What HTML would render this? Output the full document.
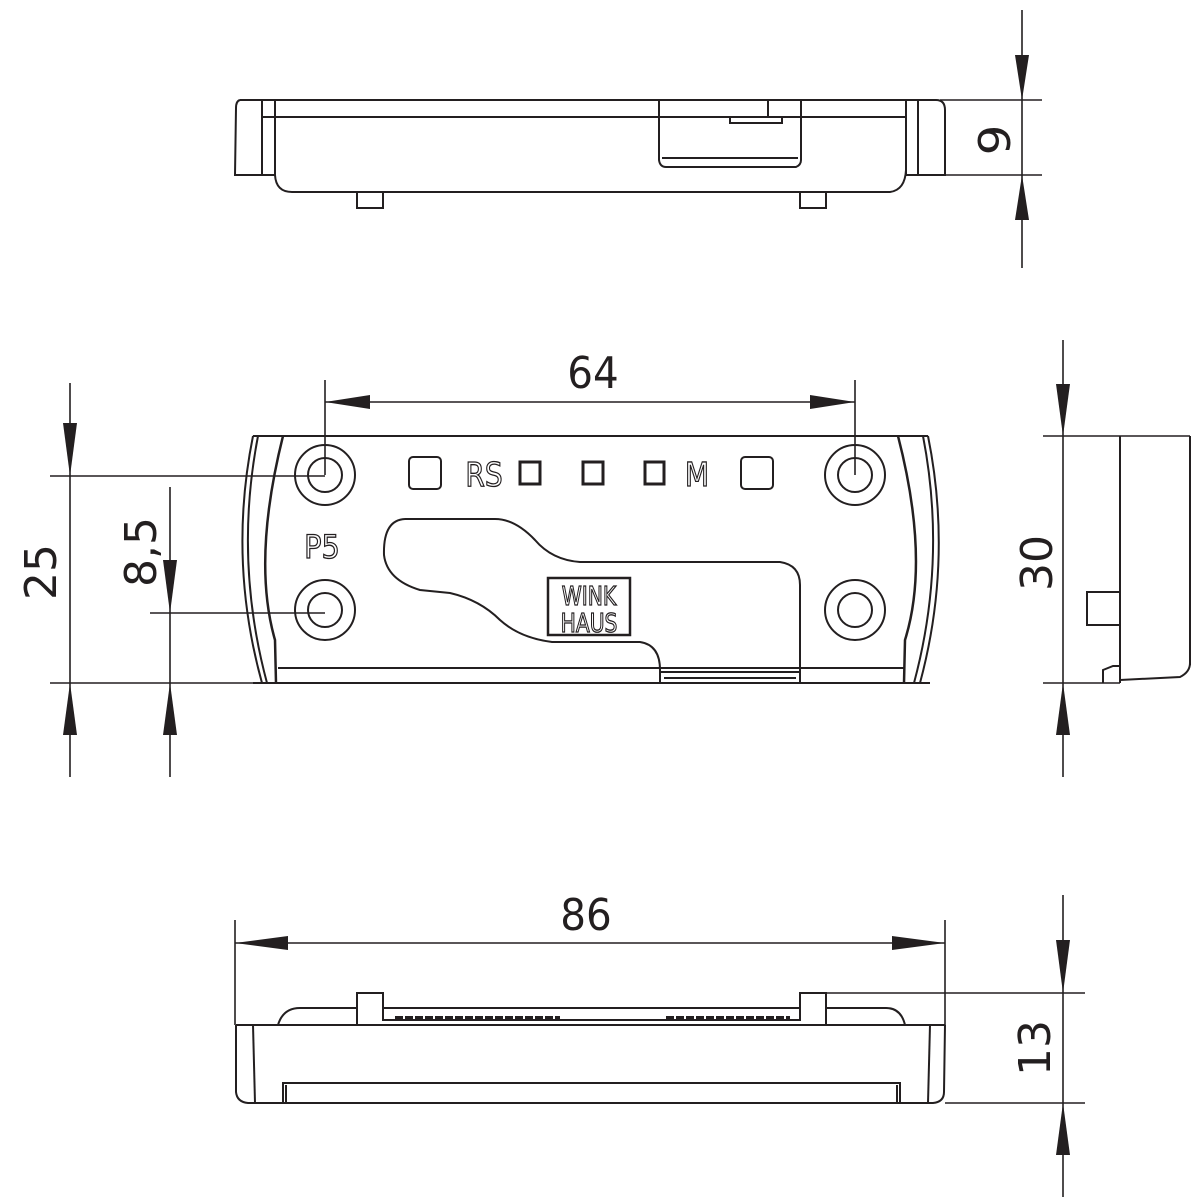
<!DOCTYPE html>
<html><head><style>body{margin:0;background:#fff}svg{display:block}text{font-family:"DejaVu Sans","Liberation Sans",sans-serif;fill:#231f20}</style></head>
<body>
<svg width="1200" height="1200" viewBox="0 0 1200 1200" xmlns="http://www.w3.org/2000/svg">
<g fill="none" stroke="#231f20" stroke-width="2">
<path d="M240 100 L936 100 Q945 100 945 110 L945 175 L905 175"/>
<path d="M240 100 Q236 101 236 108 L235 175 L275 175"/>
<line x1="262" y1="117" x2="906" y2="117"/>
<line x1="262" y1="100" x2="262" y2="175"/>
<line x1="275" y1="100" x2="275" y2="175"/>
<line x1="906" y1="100" x2="906" y2="175"/>
<line x1="918" y1="100" x2="918" y2="175"/>
<path d="M275 175 Q276 192 292 192 L890 192 Q905 190 906 170"/>
<rect x="357" y="192" width="26" height="16"/>
<rect x="800" y="192" width="26" height="16"/>
<path d="M659 100 L659 160 Q660 167 666 167 L796 167 Q801 165 801 160 L801 100"/>
<line x1="662" y1="158" x2="798" y2="158"/>
<line x1="768" y1="100" x2="768" y2="117"/>
<rect x="730" y="117" width="52" height="6"/>
<line x1="253" y1="436" x2="928" y2="436"/>
<line x1="253" y1="683" x2="930" y2="683"/>
<line x1="278" y1="668" x2="905" y2="668"/>
<path d="M253 436 Q228 560 262 683"/>
<path d="M258 436 Q234 560 267 683"/>
<path d="M283 436 Q252 560 275 640 L276 683" stroke-width="2.5"/>
<path d="M928 436 Q953 560 920 683"/>
<path d="M923 436 Q947 560 914 683"/>
<path d="M898 436 Q930 560 905 640 L904 683" stroke-width="2.5"/>
<circle cx="325" cy="475" r="30"/><circle cx="325" cy="475" r="17"/>
<circle cx="855" cy="475" r="30"/><circle cx="855" cy="475" r="17"/>
<circle cx="325" cy="610" r="30"/><circle cx="325" cy="610" r="17"/>
<circle cx="855" cy="610" r="30"/><circle cx="855" cy="610" r="17"/>
<rect x="409" y="457" width="32" height="32" rx="4"/>
<rect x="741" y="457" width="32" height="32" rx="4"/>
<rect x="520" y="462" width="20" height="22" stroke-width="3"/>
<rect x="583" y="462" width="20" height="22" stroke-width="3"/>
<rect x="645" y="462" width="19" height="22" stroke-width="3"/>
<path d="M405 519 L495 519 Q515 519 535 540 Q552 560 580 562 L780 562 Q800 565 800 585 L800 683"/>
<path d="M405 519 Q383 520 384 555 Q387 580 420 590 L450 593 Q480 600 500 620 Q520 638 552 642 L640 642 Q660 645 660 670 L660 683"/>
<line x1="660" y1="672" x2="800" y2="672"/><line x1="664" y1="678" x2="796" y2="678"/>
<rect x="548" y="578" width="82" height="57" stroke-width="2.5"/>
<line x1="1120" y1="436" x2="1120" y2="683"/>
<line x1="1190" y1="436" x2="1190" y2="665"/>
<path d="M1120 680 L1180 677 Q1190 672 1190 663"/>
<rect x="1087" y="592" width="33" height="33"/>
<path d="M1103 683 L1103 670 L1113 666 L1120 666"/>
<path d="M236 1025 L945 1025"/>
<path d="M236 1025 L236 1092 Q237 1102 248 1103 L933 1103 Q944 1102 944 1092 L945 1025"/>
<line x1="253" y1="1025" x2="255" y2="1103"/>
<line x1="930" y1="1025" x2="928" y2="1103"/>
<path d="M283 1103 L283 1083 L900 1083 L900 1103"/>
<line x1="286" y1="1085" x2="286" y2="1103"/><line x1="897" y1="1085" x2="897" y2="1103"/>
<path d="M278 1025 Q283 1008 300 1008 L357 1008"/>
<path d="M826 1008 L886 1008 Q901 1008 905 1025"/>
<path d="M357 1025 L357 993 L383 993 L383 1020 L800 1020 L800 993 L826 993 L826 1025"/>
<line x1="383" y1="1008" x2="800" y2="1008"/>
<line x1="395" y1="1018" x2="560" y2="1018" stroke-width="4" stroke-dasharray="8 2"/>
<line x1="666" y1="1018" x2="790" y2="1018" stroke-width="4" stroke-dasharray="8 2"/>
</g>
<g stroke="#231f20" stroke-width="1.6" fill="none">
<line x1="1022" y1="10" x2="1022" y2="268"/>
<line x1="940" y1="100" x2="1042" y2="100"/><line x1="940" y1="175" x2="1042" y2="175"/>
<line x1="325" y1="380" x2="325" y2="475"/><line x1="855" y1="380" x2="855" y2="475"/>
<line x1="325" y1="402" x2="855" y2="402"/>
<line x1="70" y1="383" x2="70" y2="777"/><line x1="50" y1="476" x2="325" y2="476"/><line x1="50" y1="683" x2="255" y2="683"/>
<line x1="170" y1="487" x2="170" y2="777"/><line x1="150" y1="613" x2="325" y2="613"/>
<line x1="1063" y1="340" x2="1063" y2="777"/><line x1="1043" y1="436" x2="1190" y2="436"/><line x1="1043" y1="683" x2="1120" y2="683"/>
<line x1="235" y1="920" x2="235" y2="1025"/><line x1="945" y1="920" x2="945" y2="1025"/>
<line x1="235" y1="943" x2="945" y2="943"/>
<line x1="1063" y1="895" x2="1063" y2="1197"/><line x1="826" y1="993" x2="1085" y2="993"/><line x1="945" y1="1103" x2="1085" y2="1103"/>
</g>
<g fill="#231f20">
<polygon points="1022,100 1015,55 1029,55"/><polygon points="1022,175 1015,220 1029,220"/>
<polygon points="325,402 370,395 370,409"/><polygon points="855,402 810,395 810,409"/>
<polygon points="70,476 63,423 77,423"/><polygon points="70,683 63,735 77,735"/>
<polygon points="170,613 163,560 177,560"/><polygon points="170,683 163,735 177,735"/>
<polygon points="1063,436 1056,384 1070,384"/><polygon points="1063,683 1056,735 1070,735"/>
<polygon points="235,943 288,936 288,950"/><polygon points="945,943 892,936 892,950"/>
<polygon points="1063,993 1056,940 1070,940"/><polygon points="1063,1103 1056,1155 1070,1155"/>
</g>
<g font-size="44">
<text x="593" y="388" text-anchor="middle" transform="translate(593,0) scale(0.92,1) translate(-593,0)">64</text>
<text x="586" y="930" text-anchor="middle" transform="translate(586,0) scale(0.92,1) translate(-586,0)">86</text>
<text transform="translate(56,572) rotate(-90)" text-anchor="middle">25</text>
<text transform="translate(156,552) rotate(-90)" text-anchor="middle">8,5</text>
<text transform="translate(1052,563) rotate(-90)" text-anchor="middle">30</text>
<text transform="translate(1010,140) rotate(-90) scale(1.1,1)" text-anchor="middle">9</text>
<text transform="translate(1050,1048) rotate(-90)" text-anchor="middle">13</text>
</g>
<g fill="none" stroke="#231f20" stroke-width="1.3">
<text x="484" y="486" font-size="33" text-anchor="middle" transform="translate(484,0) scale(0.85,1) translate(-484,0)" style="fill:none">RS</text>
<text x="697" y="486" font-size="33" text-anchor="middle" transform="translate(697,0) scale(0.85,1) translate(-697,0)" style="fill:none">M</text>
<text x="322" y="558" font-size="32" text-anchor="middle" transform="translate(322,0) scale(0.9,1) translate(-322,0)" style="fill:none">P5</text>
<text x="589" y="605" font-size="26" text-anchor="middle" transform="translate(589,0) scale(0.78,1) translate(-589,0)" style="fill:none">WINK</text>
<text x="589" y="632" font-size="26" text-anchor="middle" transform="translate(589,0) scale(0.78,1) translate(-589,0)" style="fill:none">HAUS</text>
</g>
</svg>
</body></html>
